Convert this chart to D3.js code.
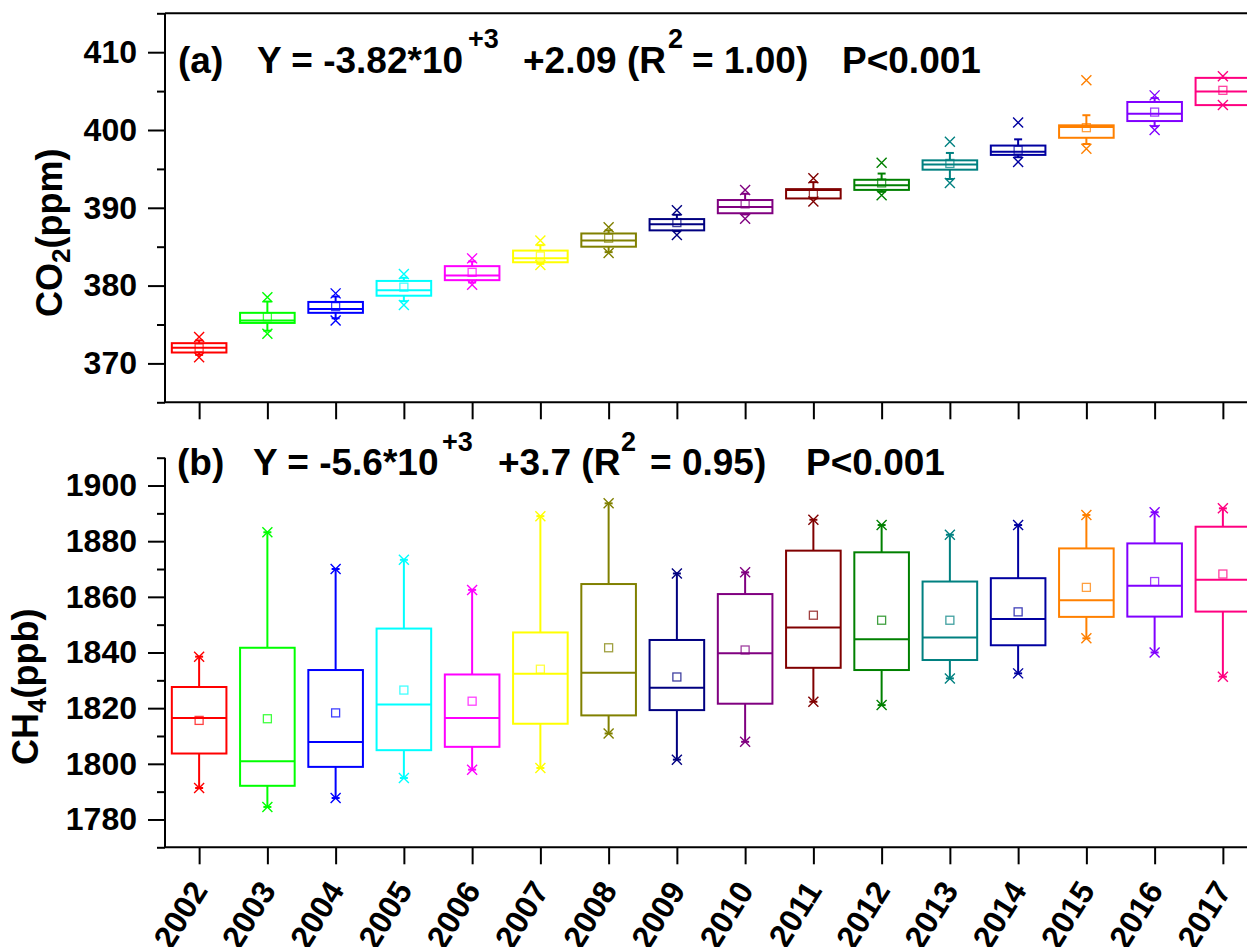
<!DOCTYPE html>
<html><head><meta charset="utf-8">
<script src="https://cdn.jsdelivr.net/npm/d3@7"></script>
<style>
body{margin:0;background:#fff;overflow:hidden}
svg{display:block}
text{font-family:'Liberation Sans',Arial,sans-serif;font-weight:bold;fill:#000}
</style>
</head><body>
<svg id="chart" width="1247" height="947"></svg>
<script>
// ---------------- data ----------------
const years = [2002,2003,2004,2005,2006,2007,2008,2009,2010,2011,2012,2013,2014,2015,2016,2017];
const colors = ["#ff0000","#00ff00","#0000ff","#00ffff","#ff00ff","#ffff00","#808000","#000080",
                "#800080","#800000","#008000","#008080","#0000a0","#ff8000","#8000ff","#ff0080"];

// CO2 (ppm)
const co2Min  = [370.8,373.8,375.5,377.5,380.1,382.65,384.2,386.5,388.6,390.8,391.6,393.2,395.9,397.6,400.0,403.2];
const co2Low  = [371.1,374.2,375.8,378.0,380.4,382.8,384.3,387.0,389.15,391.2,392.05,393.7,396.5,398.2,400.5,403.2];
const co2Q1   = [371.4,375.2,376.5,378.7,380.7,383.0,385.0,387.1,389.3,391.2,392.3,394.9,396.8,399.0,401.15,403.2];
const co2Med  = [372.0,375.5,377.0,379.4,381.3,383.5,385.8,387.9,390.1,392.3,392.9,395.55,397.2,400.4,402.1,404.95];
const co2Q3   = [372.6,376.5,377.9,380.6,382.5,384.5,386.7,388.55,391.0,392.4,393.6,396.1,398.0,400.6,403.6,406.7];
const co2High = [372.95,377.95,378.6,381.0,383.1,385.2,387.1,389.1,391.8,393.3,394.4,397.05,398.8,401.9,404.1,406.7];
const co2Max  = [373.4,378.5,379.0,381.5,383.5,385.8,387.5,389.7,392.3,393.8,395.8,398.5,400.95,406.4,404.45,406.9];
const co2Mean = [372.0,376.0,377.3,379.8,381.7,383.8,386.1,388.1,390.5,391.85,393.2,395.7,397.4,400.3,402.3,405.1];

// CH4 (ppb)
const ch4Low  = [1791.3,1784.5,1787.7,1794.9,1797.9,1798.5,1810.9,1801.5,1807.9,1822.3,1821.1,1830.7,1832.5,1845.1,1840.0,1831.3];
const ch4Q1   = [1803.7,1792.1,1798.9,1804.9,1806.1,1814.4,1817.4,1819.3,1821.6,1834.5,1833.7,1837.3,1842.6,1852.8,1852.9,1854.7];
const ch4Med  = [1816.5,1800.9,1807.8,1821.3,1816.5,1832.4,1832.7,1827.3,1839.7,1849.0,1844.8,1845.4,1852.0,1858.8,1864.0,1866.1];
const ch4Q3   = [1827.6,1841.7,1833.7,1848.6,1832.1,1847.2,1864.6,1844.5,1861.0,1876.6,1876.0,1865.5,1866.7,1877.4,1879.2,1885.2];
const ch4High = [1838.5,1883.2,1870.0,1873.3,1862.5,1889.0,1893.6,1868.4,1868.8,1887.7,1885.8,1882.3,1885.8,1889.4,1890.4,1891.8];
const ch4Mean = [1815.6,1816.2,1818.3,1826.5,1822.5,1834.0,1841.7,1831.2,1840.9,1853.4,1851.6,1851.6,1854.6,1863.4,1865.5,1868.2];

// tick values
const co2Ticks = [370,380,390,400,410];
const co2Minor = [365,375,385,395,405,415];
const ch4Ticks = [1780,1800,1820,1840,1860,1880,1900];
const ch4Minor = [1770,1790,1810,1830,1850,1870,1890,1910];

// ---------------- layout ----------------
const W = 1247, H = 947;
const svg = d3.select("#chart");
const x = d3.scaleLinear().domain([2001.5, 2017.5]).range([165, 165 + 16*68.25]);
const yA = d3.scaleLinear().domain([365, 415]).range([402.3, 13.3]);
const yB = d3.scaleLinear().domain([1770, 1910]).range([847.3, 457.7]);
const boxW = x(2002.4) - x(2001.6);
const fmt = d3.format("d");

function style(g, fs){
  g.attr("font-family", null).attr("font-size", null);
  g.selectAll("path.domain").remove();
  g.selectAll(".tick line").attr("stroke","#000").attr("stroke-width",2);
  g.selectAll("text").attr("font-size", fs).attr("font-weight","bold").attr("fill","#000");
}
function line(x1,y1,x2,y2){
  svg.append("line").attr("x1",x1).attr("y1",y1).attr("x2",x2).attr("y2",y2)
    .attr("stroke","#000").attr("stroke-width",2);
}

// ---------- Panel (a) axes ----------
svg.append("g").attr("transform",`translate(${x.range()[0]},0)`)
  .call(d3.axisLeft(yA).tickValues(co2Ticks).tickFormat(fmt).tickSize(17).tickPadding(11).tickSizeOuter(0))
  .call(g=>style(g,32));
svg.append("g").attr("transform",`translate(${x.range()[0]},0)`)
  .call(d3.axisLeft(yA).tickValues(co2Minor).tickSize(8).tickFormat("").tickSizeOuter(0))
  .call(g=>style(g,32));
svg.append("g").attr("transform",`translate(0,${yA.range()[0]})`)
  .call(d3.axisBottom(x).tickValues(years).tickSize(17).tickFormat("").tickSizeOuter(0))
  .call(g=>style(g,32));
line(165, yA.range()[1], 165, yA.range()[0]);
line(165, yA.range()[0], W+5, yA.range()[0]);
line(165, yA.range()[1], W+5, yA.range()[1]);

// ---------- Panel (b) axes ----------
svg.append("g").attr("transform",`translate(${x.range()[0]},0)`)
  .call(d3.axisLeft(yB).tickValues(ch4Ticks).tickFormat(fmt).tickSize(17).tickPadding(11).tickSizeOuter(0))
  .call(g=>style(g,32));
svg.append("g").attr("transform",`translate(${x.range()[0]},0)`)
  .call(d3.axisLeft(yB).tickValues(ch4Minor).tickSize(8).tickFormat("").tickSizeOuter(0))
  .call(g=>style(g,32));
const xb = svg.append("g").attr("transform",`translate(0,${yB.range()[0]})`)
  .call(d3.axisBottom(x).tickValues(years).tickSize(17).tickFormat(fmt).tickSizeOuter(0))
  .call(g=>style(g,32));
xb.selectAll(".tick text")
  .attr("x",null).attr("y",null).attr("dy",null)
  .attr("text-anchor","end")
  .attr("transform","translate(9,43) rotate(-58)");
line(165, yB.range()[1], 165, yB.range()[0]);
line(165, yB.range()[0], W+5, yB.range()[0]);

// ---------- boxes ----------
function cross(g, cx, cy, col){
  g.append("path").attr("d",`M${cx-5},${cy-5}L${cx+5},${cy+5}M${cx-5},${cy+5}L${cx+5},${cy-5}`)
    .attr("stroke",col).attr("stroke-width",1.4).attr("fill","none");
}
function drawBoxes(y, low, q1, med, q3, high, mean, mn, mx){
  const g = svg.append("g");
  years.forEach((yr,i)=>{
    const cx = x(yr), col = colors[i];
    const b = g.append("g");
    b.append("line").attr("x1",cx).attr("x2",cx).attr("y1",y(q3[i])).attr("y2",y(high[i]))
      .attr("stroke",col).attr("stroke-width",2);
    b.append("line").attr("x1",cx).attr("x2",cx).attr("y1",y(q1[i])).attr("y2",y(low[i]))
      .attr("stroke",col).attr("stroke-width",2);
    [high[i], low[i]].forEach(v=>{
      b.append("line").attr("x1",cx-4).attr("x2",cx+4).attr("y1",y(v)).attr("y2",y(v))
        .attr("stroke",col).attr("stroke-width",2);
    });
    b.append("rect").attr("x",cx-boxW/2).attr("width",boxW)
      .attr("y",y(q3[i])).attr("height",Math.max(0,y(q1[i])-y(q3[i])))
      .attr("fill","none").attr("stroke",col).attr("stroke-width",2);
    b.append("line").attr("x1",cx-boxW/2).attr("x2",cx+boxW/2).attr("y1",y(med[i])).attr("y2",y(med[i]))
      .attr("stroke",col).attr("stroke-width",2);
    b.append("rect").attr("x",cx-4).attr("y",y(mean[i])-4).attr("width",8).attr("height",8)
      .attr("fill","none").attr("stroke",col).attr("stroke-width",1.3).attr("stroke-opacity",0.75);
    cross(b, cx, y(mx[i]), col);
    cross(b, cx, y(mn[i]), col);
  });
}
drawBoxes(yA, co2Low, co2Q1, co2Med, co2Q3, co2High, co2Mean, co2Min, co2Max);
drawBoxes(yB, ch4Low, ch4Q1, ch4Med, ch4Q3, ch4High, ch4Mean, ch4Low, ch4High);

// ---------- titles ----------
function seg(xp, yp, txt, fs){
  svg.append("text").attr("x",xp).attr("y",yp).attr("font-size",fs).text(txt);
}
seg(178, 73, "(a)", 37);
seg(257, 73, "Y = -3.82*10", 37);
seg(468, 48, "+3", 27);
seg(523, 73, "+2.09 (R", 37);
seg(668, 48, "2", 27);
seg(692, 73, "= 1.00)", 37);
seg(842, 73, "P<0.001", 37);
seg(177, 475, "(b)", 37);
seg(253, 475, "Y = -5.6*10", 37);
seg(442, 451, "+3", 27);
seg(498, 475, "+3.7 (R", 37);
seg(621, 451, "2", 27);
seg(650, 475, "= 0.95)", 37);
seg(806, 475, "P<0.001", 37);

// ---------- axis titles ----------
function yTitle(xp, yp, main, sub, rest){
  const t = svg.append("text").attr("transform",`translate(${xp},${yp}) rotate(-90)`)
    .attr("font-size",36).attr("text-anchor","start");
  t.append("tspan").text(main);
  t.append("tspan").attr("font-size",26).attr("dy",8).text(sub);
  t.append("tspan").attr("dy",-8).text(rest);
}
yTitle(62, 317, "CO", "2", "(ppm)");
yTitle(38, 765, "CH", "4", "(ppb)");
</script>
</body></html>
